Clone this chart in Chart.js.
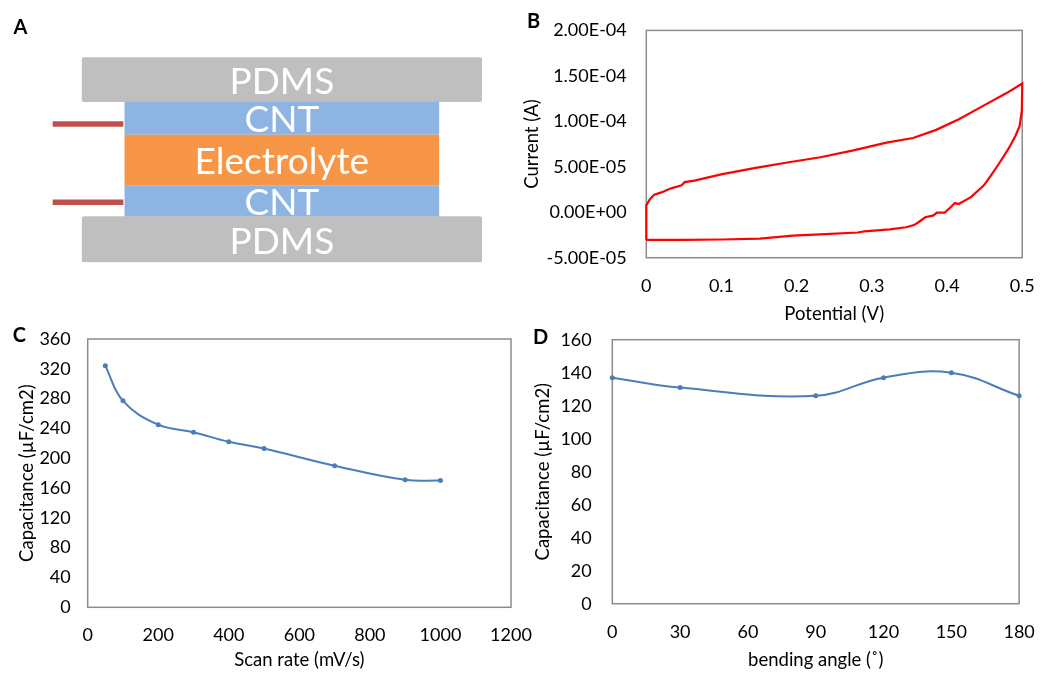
<!DOCTYPE html>
<html>
<head>
<meta charset="utf-8">
<script src="https://cdn.jsdelivr.net/npm/chart.js@4.4.1/dist/chart.umd.min.js"></script>
<style>
  html, body { margin: 0; padding: 0; background: #ffffff; }
  #wrap { position: relative; width: 1052px; height: 678px; overflow: hidden; background: #fff; }
  #wrap canvas { position: absolute; left: 0; top: 0; }
  .panel { position: absolute; width: 30px; text-align: center; font: bold 20px Lato, sans-serif; line-height: 20px; color: #000; }
</style>
</head>
<body>
<div id="wrap">
  <canvas id="cA" width="1052" height="678"></canvas>
  <canvas id="cB" width="1052" height="678"></canvas>
  <canvas id="cC" width="1052" height="678"></canvas>
  <canvas id="cD" width="1052" height="678"></canvas>
  <div class="panel" style="left:5.5px;top:15.5px;">A</div>
  <div class="panel" style="left:518.5px;top:9.5px;">B</div>
  <div class="panel" style="left:4.3px;top:324px;">C</div>
  <div class="panel" style="left:525.5px;top:326px;">D</div>
</div>
<script>
// ---------------- Panel A: device stack (diagram units, bottom -> top) ----------------
const layerNames   = ['PDMS', 'CNT', 'Electrolyte', 'CNT', 'PDMS'];
const layerBottoms = [0, 45.6, 76.6, 127.6, 160.6];
const layerTops    = [45.6, 76.6, 127.6, 160.6, 205];
const wireLevels   = [138.3, 60];
const wireFrom     = -29;
const wireTo       = 41.6;

// ---------------- Panel B: cyclic voltammogram ----------------
const cvPotential = [
  0, 0, 0.0048, 0.0106, 0.020, 0.033, 0.047, 0.051, 0.064, 0.0995, 0.1435, 0.1875, 0.2315,
  0.2755, 0.3195, 0.3548, 0.3856, 0.4164, 0.4516, 0.478, 0.5,
  0.4995, 0.4965, 0.4912, 0.4824, 0.4692, 0.458, 0.449, 0.4318, 0.4154, 0.4104, 0.404,
  0.397, 0.3863, 0.382, 0.371, 0.362, 0.356, 0.3455, 0.324, 0.29, 0.281, 0.238, 0.195,
  0.151, 0.1, 0.05, 0
];
const cvCurrent = [
  -3.05e-5, 0.75e-5, 1.43e-5, 1.94e-5, 2.18e-5, 2.63e-5, 2.97e-5, 3.31e-5, 3.48e-5, 4.17e-5, 4.85e-5, 5.47e-5, 6.05e-5,
  6.80e-5, 7.65e-5, 8.17e-5, 9.06e-5, 10.26e-5, 11.86e-5, 13.05e-5, 14.15e-5,
  11.2e-5, 9.47e-5, 8.44e-5, 7.07e-5, 5.36e-5, 4.0e-5, 2.96e-5, 1.66e-5, 0.91e-5, 1.01e-5, 0.5e-5,
  -0.04e-5, -0.04e-5, -0.35e-5, -0.55e-5, -1.1e-5, -1.41e-5, -1.65e-5, -1.89e-5, -2.1e-5, -2.23e-5, -2.40e-5, -2.57e-5,
  -2.91e-5, -3.0e-5, -3.05e-5, -3.05e-5
];
const bXTicks = [0, 0.1, 0.2, 0.3, 0.4, 0.5];
const bXTickLabels = ['0', '0.1', '0.2', '0.3', '0.4', '0.5'];
const bYTicks = [-5e-5, 0, 5e-5, 1e-4, 1.5e-4, 2e-4];
const bYTickLabels = ['-5.00E-05', '0.00E+00', '5.00E-05', '1.00E-04', '1.50E-04', '2.00E-04'];

// ---------------- Panel C: capacitance vs scan rate ----------------
const scanRates = [50, 100, 200, 300, 400, 500, 700, 900, 1000];
const capVsScan = [324, 277, 245, 235, 222, 213, 190, 171, 170];
const cXTicks = [0, 200, 400, 600, 800, 1000, 1200];
const cYTicks = [0, 40, 80, 120, 160, 200, 240, 280, 320, 360];

// ---------------- Panel D: capacitance vs bending angle ----------------
const bendAngles = [0, 30, 90, 120, 150, 180];
const capVsBend  = [137, 131, 126, 137, 140, 126];
const dXTicks = [0, 30, 60, 90, 120, 150, 180];
const dYTicks = [0, 20, 40, 60, 80, 100, 120, 140, 160];

// ---------------- common styling ----------------
Chart.defaults.font.family = 'Lato, "Open Sans", sans-serif';
Chart.defaults.color = '#000';
Chart.defaults.animation = false;
Chart.defaults.responsive = false;
Chart.defaults.plugins.legend.display = false;
Chart.defaults.plugins.tooltip.enabled = false;

const TICK_FONT = { size: 18 };
const TITLE_FONT = { size: 18.5 };
const BLUE = '#4a7ebb';

const frame = {
  id: 'frame',
  beforeDatasetsDraw(chart, args, opts) {
    if (!opts || !opts.show) return;
    const a = chart.chartArea, ctx = chart.ctx;
    ctx.save();
    ctx.strokeStyle = '#8c8c8c';
    ctx.lineWidth = 1.5;
    ctx.strokeRect(a.left, a.top, a.right - a.left, a.bottom - a.top);
    ctx.restore();
  }
};

const layerText = {
  id: 'layerText',
  afterDatasetsDraw(chart) {
    const ctx = chart.ctx;
    ctx.save();
    ctx.font = '37px Lato, "Open Sans", sans-serif';
    ctx.fillStyle = '#ffffff';
    ctx.textAlign = 'center';
    ctx.textBaseline = 'alphabetic';
    const cap = ctx.measureText('H').actualBoundingBoxAscent;
    chart.data.datasets.forEach((ds, i) => {
      if (ds.type === 'line') return;
      const el = chart.getDatasetMeta(i).data[0];
      const cy = (el.y + el.base) / 2;
      ctx.fillText(ds.label, el.x, cy + cap / 2 + 1);
    });
    ctx.restore();
  }
};

function ticksFrom(values) {
  return (scale) => { scale.ticks = values.map(v => ({ value: v })); };
}

// ---------------- Chart A ----------------
const layerColor = { 'PDMS': '#bfbfbf', 'CNT': '#8eb4e3', 'Electrolyte': '#f79646' };
const aDatasets = layerNames.map((name, i) => ({
  type: 'bar',
  label: name,
  data: [[layerBottoms[i], layerTops[i]]],
  backgroundColor: layerColor[name],
  grouped: false,
  categoryPercentage: 1,
  barPercentage: name === 'PDMS' ? 1 : 0.786,
  borderWidth: 0,
  borderSkipped: false,
  borderRadius: name === 'PDMS' ? 3 : 0,
  order: 2
}));
wireLevels.forEach((lvl) => {
  aDatasets.push({
    type: 'line',
    label: 'wire',
    data: [{ x: wireFrom, y: lvl }, { x: wireTo, y: lvl }],
    xAxisID: 'xw',
    borderColor: '#c0504d',
    borderWidth: 5.5,
    borderCapStyle: 'butt',
    pointRadius: 0,
    clip: false,
    order: 1
  });
});
new Chart(document.getElementById('cA'), {
  type: 'bar',
  data: { labels: ['device'], datasets: aDatasets },
  options: {
    layout: { padding: { left: 81.7, right: 570, top: 57.3, bottom: 415.7 } },
    scales: {
      x: { type: 'category', display: false, offset: true },
      xw: { type: 'linear', display: false, min: 0, max: 400, offset: false, grid: { offset: false } },
      y: { type: 'linear', display: false, min: 0, max: 205 }
    }
  },
  plugins: [layerText]
});

// ---------------- Chart B ----------------
new Chart(document.getElementById('cB'), {
  type: 'scatter',
  data: {
    datasets: [{
      data: cvPotential.map((v, i) => ({ x: v, y: cvCurrent[i] })),
      showLine: true,
      borderColor: '#ff0000',
      borderWidth: 2.2,
      pointRadius: 0,
      tension: 0,
      clip: false
    }]
  },
  options: {
    layout: { padding: { left: 516.3, right: 19.3, top: 14, bottom: 352.9 } },
    plugins: { frame: { show: true } },
    scales: {
      x: {
        type: 'linear', min: 0, max: 0.5,
        afterBuildTicks: ticksFrom(bXTicks),
        afterFit: (s) => { s.height = 67.4; },
        grid: { display: false, drawTicks: false }, border: { display: false },
        ticks: { font: TICK_FONT, padding: 17.2, autoSkip: false, maxRotation: 0, callback: (v, i) => bXTickLabels[i] },
        title: { display: true, text: 'Potential (V)', font: TITLE_FONT, padding: { top: 0, bottom: 0 } }
      },
      y: {
        type: 'linear', min: -5e-5, max: 2e-4,
        afterBuildTicks: ticksFrom(bYTicks),
        afterFit: (s) => { s.width = 130; },
        grid: { display: false, drawTicks: false }, border: { display: false },
        ticks: { font: TICK_FONT, padding: 19.6, autoSkip: false, callback: (v, i) => bYTickLabels[i] },
        title: { display: true, text: 'Current (A)', font: TITLE_FONT, padding: { top: 5.1, bottom: 0 } }
      }
    }
  },
  plugins: [frame]
});

// ---------------- Chart C ----------------
new Chart(document.getElementById('cC'), {
  type: 'scatter',
  data: {
    datasets: [{
      data: scanRates.map((v, i) => ({ x: v, y: capVsScan[i] })),
      showLine: true,
      borderColor: BLUE,
      backgroundColor: BLUE,
      borderWidth: 2,
      pointRadius: 2.5,
      pointBorderWidth: 0,
      tension: 0.4
    }]
  },
  options: {
    layout: { padding: { left: 7.7, right: 541, top: 339, bottom: 6.9 } },
    plugins: { frame: { show: true } },
    scales: {
      x: {
        type: 'linear', min: 0, max: 1200,
        afterBuildTicks: ticksFrom(cXTicks),
        afterFit: (s) => { s.height = 63.8; },
        grid: { display: false, drawTicks: false }, border: { display: false },
        ticks: { font: TICK_FONT, padding: 16.9, autoSkip: false, maxRotation: 0, callback: (v) => String(v) },
        title: { display: true, text: 'Scan rate (mV/s)', font: TITLE_FONT, padding: { top: 0, bottom: 0 } }
      },
      y: {
        type: 'linear', min: 0, max: 360,
        afterBuildTicks: ticksFrom(cYTicks),
        afterFit: (s) => { s.width = 80; },
        grid: { display: false, drawTicks: false }, border: { display: false },
        ticks: { font: TICK_FONT, padding: 17, autoSkip: false, callback: (v) => String(v) },
        title: { display: true, text: 'Capacitance (µF/cm2)', font: TITLE_FONT, padding: { top: 7.9, bottom: 0 } }
      }
    }
  },
  plugins: [frame]
});

// ---------------- Chart D ----------------
new Chart(document.getElementById('cD'), {
  type: 'scatter',
  data: {
    datasets: [{
      data: bendAngles.map((v, i) => ({ x: v, y: capVsBend[i] })),
      showLine: true,
      borderColor: BLUE,
      backgroundColor: BLUE,
      borderWidth: 2,
      pointRadius: 2.5,
      pointBorderWidth: 0,
      tension: 0.4,
      clip: false
    }]
  },
  options: {
    layout: { padding: { left: 532.3, right: 20, top: 339.7, bottom: 6.9 } },
    plugins: { frame: { show: true } },
    scales: {
      x: {
        type: 'linear', min: 0, max: 180,
        afterBuildTicks: ticksFrom(dXTicks),
        afterFit: (s) => { s.height = 67.4; },
        grid: { display: false, drawTicks: false }, border: { display: false },
        ticks: { font: TICK_FONT, padding: 17.2, autoSkip: false, maxRotation: 0, callback: (v) => String(v) },
        title: { display: true, text: 'bending angle (˚)', font: TITLE_FONT, padding: { top: 0, bottom: 0 } }
      },
      y: {
        type: 'linear', min: 0, max: 160,
        afterBuildTicks: ticksFrom(dYTicks),
        afterFit: (s) => { s.width = 80; },
        grid: { display: false, drawTicks: false }, border: { display: false },
        ticks: { font: TICK_FONT, padding: 20.6, autoSkip: false, callback: (v) => String(v) },
        title: { display: true, text: 'Capacitance (µF/cm2)', font: TITLE_FONT, padding: { top: 0.1, bottom: 0 } }
      }
    }
  },
  plugins: [frame]
});
</script>
</body>
</html>
